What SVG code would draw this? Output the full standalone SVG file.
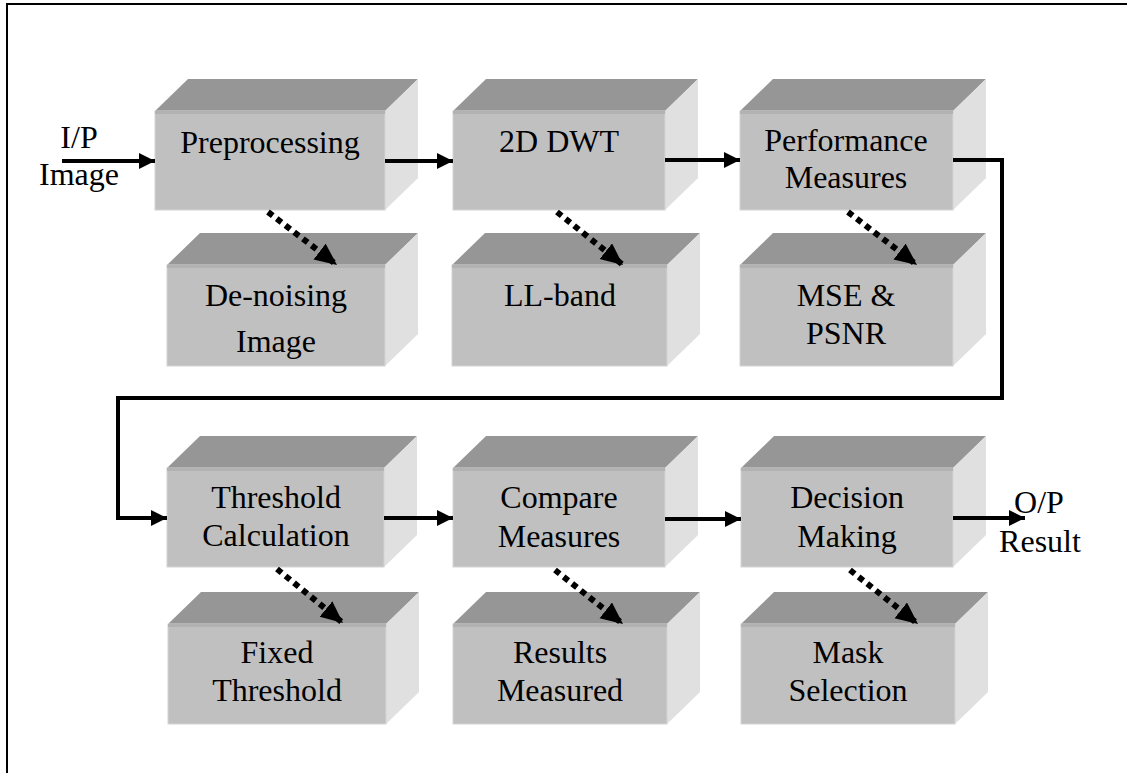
<svg xmlns="http://www.w3.org/2000/svg" width="1127" height="773" viewBox="0 0 1127 773">
<style>
.front{fill:#c0c0c0;stroke:#d4d4d4;stroke-width:1}
.top{fill:#969696}
.side{fill:#e0e0e0}
.band{fill:#b2b2b2}
.lbl{font-family:"Liberation Serif","Times New Roman",serif;font-size:32px;fill:#000;text-anchor:middle}
.conn{fill:none;stroke:#000;stroke-width:4}
.dot{fill:none;stroke:#000;stroke-width:6;stroke-dasharray:6 5}
</style>
<defs>
<marker id="ah" markerUnits="userSpaceOnUse" markerWidth="18" markerHeight="18" refX="16" refY="8" orient="auto">
<path d="M0,0 L16,8 L0,16 Z" fill="#000"/>
</marker>
<marker id="ahd" markerUnits="userSpaceOnUse" markerWidth="24" markerHeight="24" refX="22" refY="10" orient="auto">
<path d="M0,0 L22,10 L0,20 Z" fill="#000"/>
</marker>
</defs>
<rect x="0" y="0" width="1127" height="773" fill="#fff"/>
<path d="M7,773 V4 H1127" fill="none" stroke="#000" stroke-width="2"/>

<g id="n-preprocessing">
<polygon class="top" points="155,111 188,79 418,79 385,111"/><polygon class="side" points="385,111 418,79 418,178 385,210"/><rect class="front" x="155" y="111" width="230" height="99"/><rect class="band" x="155" y="111" width="230" height="3"/>
<text class="lbl" x="270" y="153">Preprocessing</text>
</g>
<g id="n-dwt">
<polygon class="top" points="453,111 486,79 698,79 665,111"/><polygon class="side" points="665,111 698,79 698,178 665,210"/><rect class="front" x="453" y="111" width="212" height="99"/><rect class="band" x="453" y="111" width="212" height="3"/>
<text class="lbl" x="559" y="152">2D DWT</text>
</g>
<g id="n-performance">
<polygon class="top" points="740,111 773,79 986,79 953,111"/><polygon class="side" points="953,111 986,79 986,178 953,210"/><rect class="front" x="740" y="111" width="213" height="99"/><rect class="band" x="740" y="111" width="213" height="3"/>
<text class="lbl" x="846" y="151">Performance</text><text class="lbl" x="846" y="188">Measures</text>
</g>

<g id="n-denoising">
<polygon class="top" points="167,265 200,233 418,233 385,265"/><polygon class="side" points="385,265 418,233 418,334 385,366"/><rect class="front" x="167" y="265" width="218" height="101"/><rect class="band" x="167" y="265" width="218" height="3"/>
<text class="lbl" x="276" y="306">De-noising</text><text class="lbl" x="276" y="352">Image</text>
</g>
<g id="n-llband">
<polygon class="top" points="452,265 485,233 700,233 667,265"/><polygon class="side" points="667,265 700,233 700,334 667,366"/><rect class="front" x="452" y="265" width="215" height="101"/><rect class="band" x="452" y="265" width="215" height="3"/>
<text class="lbl" x="560" y="306">LL-band</text>
</g>
<g id="n-mse">
<polygon class="top" points="740,265 773,233 986,233 953,265"/><polygon class="side" points="953,265 986,233 986,334 953,366"/><rect class="front" x="740" y="265" width="213" height="101"/><rect class="band" x="740" y="265" width="213" height="3"/>
<text class="lbl" x="846" y="306">MSE &amp;</text><text class="lbl" x="846" y="344">PSNR</text>
</g>

<g id="n-threshold">
<polygon class="top" points="167,468 200,436 417,436 384,468"/><polygon class="side" points="384,468 417,436 417,535 384,567"/><rect class="front" x="167" y="468" width="217" height="99"/><rect class="band" x="167" y="468" width="217" height="3"/>
<text class="lbl" x="276" y="508">Threshold</text><text class="lbl" x="276" y="546">Calculation</text>
</g>
<g id="n-compare">
<polygon class="top" points="453,468 486,436 698,436 665,468"/><polygon class="side" points="665,468 698,436 698,535 665,567"/><rect class="front" x="453" y="468" width="212" height="99"/><rect class="band" x="453" y="468" width="212" height="3"/>
<text class="lbl" x="559" y="508">Compare</text><text class="lbl" x="559" y="547">Measures</text>
</g>
<g id="n-decision">
<polygon class="top" points="741,468 774,436 986,436 953,468"/><polygon class="side" points="953,468 986,436 986,535 953,567"/><rect class="front" x="741" y="468" width="212" height="99"/><rect class="band" x="741" y="468" width="212" height="3"/>
<text class="lbl" x="847" y="508">Decision</text><text class="lbl" x="847" y="547">Making</text>
</g>

<g id="n-fixed">
<polygon class="top" points="168,624 201,592 419,592 386,624"/><polygon class="side" points="386,624 419,592 419,692 386,724"/><rect class="front" x="168" y="624" width="218" height="100"/><rect class="band" x="168" y="624" width="218" height="3"/>
<text class="lbl" x="277" y="663">Fixed</text><text class="lbl" x="277" y="701">Threshold</text>
</g>
<g id="n-results">
<polygon class="top" points="453,624 486,592 700,592 667,624"/><polygon class="side" points="667,624 700,592 700,692 667,724"/><rect class="front" x="453" y="624" width="214" height="100"/><rect class="band" x="453" y="624" width="214" height="3"/>
<text class="lbl" x="560" y="663">Results</text><text class="lbl" x="560" y="701">Measured</text>
</g>
<g id="n-mask">
<polygon class="top" points="741,624 774,592 988,592 955,624"/><polygon class="side" points="955,624 988,592 988,692 955,724"/><rect class="front" x="741" y="624" width="214" height="100"/><rect class="band" x="741" y="624" width="214" height="3"/>
<text class="lbl" x="848" y="663">Mask</text><text class="lbl" x="848" y="701">Selection</text>
</g>

<g id="n-input">
<text class="lbl" x="79" y="148">I/P</text><text class="lbl" x="79" y="185">Image</text>
</g>
<g id="n-output">
<text class="lbl" x="1039" y="513">O/P</text><text class="lbl" x="1040" y="552">Result</text>
</g>

<g id="connectors">
<line class="conn" x1="62" y1="161" x2="155" y2="161" marker-end="url(#ah)"/>
<line class="conn" x1="385" y1="161" x2="453" y2="161" marker-end="url(#ah)"/>
<line class="conn" x1="665" y1="160" x2="740" y2="160" marker-end="url(#ah)"/>
<path class="conn" d="M953,160 H1002 V398 H118 V518 H167" marker-end="url(#ah)"/>
<line class="conn" x1="384" y1="518" x2="453" y2="518" marker-end="url(#ah)"/>
<line class="conn" x1="665" y1="519" x2="741" y2="519" marker-end="url(#ah)"/>
<line class="conn" x1="953" y1="518" x2="1025" y2="518" marker-end="url(#ah)"/>

<line class="dot" x1="268" y1="212" x2="337" y2="265" marker-end="url(#ahd)"/>
<line class="dot" x1="557" y1="212" x2="623" y2="265" marker-end="url(#ahd)"/>
<line class="dot" x1="848" y1="212" x2="917" y2="265" marker-end="url(#ahd)"/>
<line class="dot" x1="277" y1="569" x2="343" y2="623" marker-end="url(#ahd)"/>
<line class="dot" x1="555" y1="570" x2="623" y2="624" marker-end="url(#ahd)"/>
<line class="dot" x1="850" y1="570" x2="918" y2="624" marker-end="url(#ahd)"/>
</g>
</svg>
